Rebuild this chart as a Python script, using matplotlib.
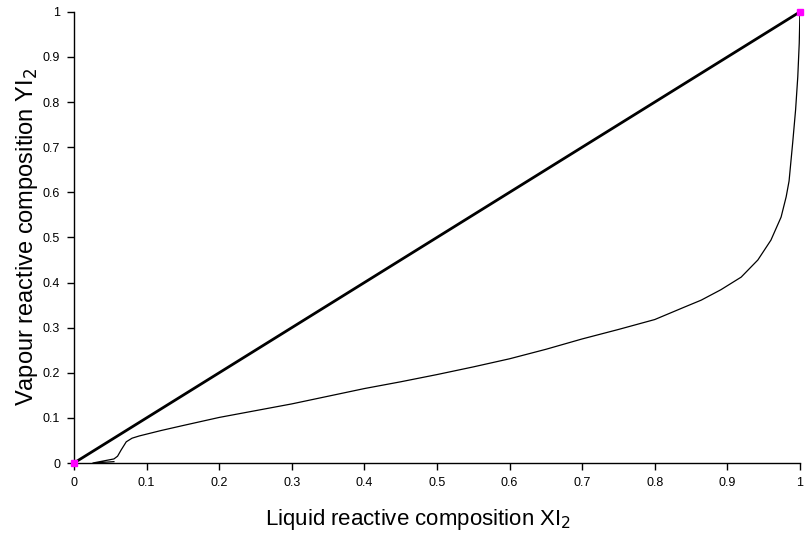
import matplotlib
matplotlib.use("Agg")
import matplotlib.pyplot as plt

plt.rcParams['font.family'] = ['Liberation Sans', 'DejaVu Sans']

# equilibrium curve
xl = [0.055, 0.026, 0.055, 0.06, 0.065, 0.072, 0.08, 0.09, 0.1, 0.12, 0.15, 0.2,
      0.25, 0.3, 0.35, 0.4, 0.45, 0.5, 0.55, 0.6, 0.65, 0.7, 0.75, 0.8, 0.84,
      0.864, 0.891, 0.919, 0.942, 0.96, 0.974, 0.981, 0.985, 0.99, 0.994, 0.997, 0.999, 1.0]
yv = [0.003, 0.0, 0.009, 0.015, 0.029, 0.047, 0.055, 0.06, 0.064, 0.072, 0.083, 0.101,
      0.116, 0.131, 0.148, 0.165, 0.18, 0.196, 0.213, 0.231, 0.252, 0.275, 0.296, 0.318, 0.345,
      0.361, 0.384, 0.412, 0.45, 0.494, 0.545, 0.59, 0.625, 0.71, 0.783, 0.856, 0.93, 1.0]

# y = x reference line and end points
diag_x = [0, 1]
diag_y = [0, 1]

ticks = [0, 0.1, 0.2, 0.3, 0.4, 0.5, 0.6, 0.7, 0.8, 0.9, 1]
ticklabels = ['0', '0.1', '0.2', '0.3', '0.4', '0.5', '0.6', '0.7', '0.8', '0.9', '1']

fig = plt.figure(figsize=(8.06, 5.39), dpi=100)
ax = fig.add_axes([0.0918, 0.141, 0.9007, 0.837])

ax.plot(diag_x, diag_y, color='black', lw=2, zorder=3)
ax.plot(xl, yv, color='black', lw=0.9, zorder=2)
ax.plot(diag_x, diag_y, ls='none', marker='s', ms=5, color='#ff00ff',
        markeredgecolor='#ff00ff', zorder=4, clip_on=False)

ax.set_xlim(0, 1)
ax.set_ylim(0, 1)
ax.set_xticks(ticks)
ax.set_xticklabels(ticklabels)
ax.set_yticks(ticks)
ax.set_yticklabels(ticklabels)
ax.tick_params(axis='both', direction='out', length=5, width=1, labelsize=9, pad=5)

for s in ['top', 'right']:
    ax.spines[s].set_visible(False)
for s in ['left', 'bottom']:
    ax.spines[s].set_linewidth(1)

ax.set_xlabel('Liquid reactive composition XI$_2$', fontsize=16)
ax.xaxis.set_label_coords(0.474, -0.098)
ax.set_ylabel('Vapour reactive composition YI$_2$', fontsize=17, labelpad=2)

fig.savefig('out.png', dpi=100)
